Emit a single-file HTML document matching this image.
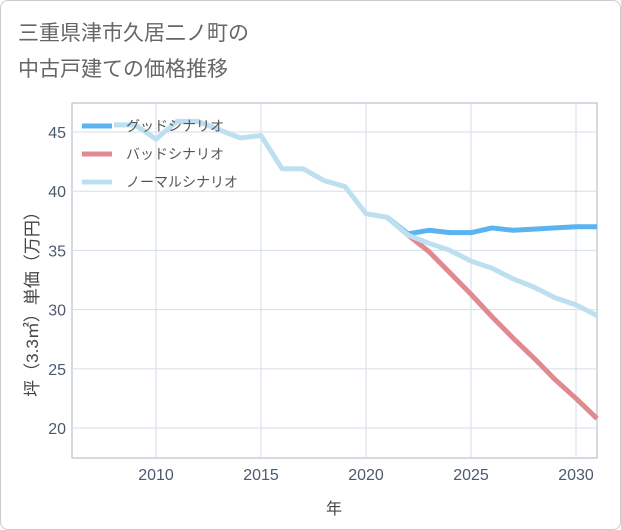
<!DOCTYPE html>
<html><head><meta charset="utf-8"><style>
body{margin:0;background:#fff;font-family:"Liberation Sans","Noto Sans CJK JP",sans-serif;}
#wrap{position:relative;width:619px;height:528px;border:1px solid #ccc;border-radius:8px;overflow:hidden;background:#fff}
</style></head><body>
<div id="wrap">
<svg id="chart" width="621" height="530" style="position:absolute;left:-1px;top:-1px">
<text x="18" y="40" font-size="21" fill="#666" font-family="Liberation Sans,Noto Sans CJK JP,sans-serif">三重県津市久居二ノ町の</text>
<text x="18" y="76" font-size="21" fill="#666" font-family="Liberation Sans,Noto Sans CJK JP,sans-serif">中古戸建ての価格推移</text>
<g id="grid"></g><g id="series"></g><g id="legend"></g>
<text x="334" y="514" font-size="16" fill="#444" text-anchor="middle" font-family="Liberation Sans,Noto Sans CJK JP,sans-serif">年</text>
<text transform="translate(38,300) rotate(-90)" font-size="17" fill="#444" text-anchor="middle" font-family="Liberation Sans,Noto Sans CJK JP,sans-serif">坪（3.3㎡）単価（万円）</text>
</svg>
</div>
<script>
const xTicks=[2010,2015,2020,2025,2030];
const yTicks=[20,25,30,35,40,45];
const normalYears=[2008,2009,2010,2011,2012,2013,2014,2015,2016,2017,2018,2019,2020,2021,2022,2023,2024,2025,2026,2027,2028,2029,2030,2031];
const normalVals=[45.6,45.6,44.4,45.9,45.9,45.2,44.5,44.7,41.9,41.9,40.9,40.4,38.1,37.8,36.3,35.6,35.0,34.1,33.5,32.6,31.9,31.0,30.4,29.5];
const goodYears=[2021,2022,2023,2024,2025,2026,2027,2028,2029,2030,2031];
const goodVals=[37.8,36.4,36.7,36.5,36.5,36.9,36.7,36.8,36.9,37.0,37.0];
const badYears=[2021,2022,2023,2024,2025,2026,2027,2028,2029,2030,2031];
const badVals=[37.8,36.3,34.9,33.1,31.3,29.4,27.6,25.9,24.1,22.5,20.8];
const L=72,R=597,T=103,B=458,X0=2006,X1=2031,Y0=17.47,Y1=47.45;
const sx=v=>L+(v-X0)/(X1-X0)*(R-L);
const sy=v=>B-(v-Y0)/(Y1-Y0)*(B-T);
const NS="http://www.w3.org/2000/svg";
function mk(tag,attrs,parent){const e=document.createElementNS(NS,tag);for(const k in attrs)e.setAttribute(k,attrs[k]);parent.appendChild(e);return e;}
const grid=document.getElementById('grid');
mk('rect',{x:L,y:T,width:R-L,height:B-T,fill:'none',stroke:'#aab4c0','stroke-width':1},grid);
xTicks.forEach(t=>{
 const l=mk('line',{x1:sx(t),x2:sx(t),y1:T,y2:B,stroke:'#d5dee8'},grid);
 
 
 const tx=mk('text',{x:sx(t),y:B+22,'font-size':16,fill:'#4a5a70','text-anchor':'middle'},grid);
 tx.textContent=t;
 
 
});
yTicks.forEach(t=>{
 const l=mk('line',{x1:L,x2:R,y1:sy(t),y2:sy(t),stroke:'#d5dee8'},grid);
 
 
 const tx=mk('text',{x:L-6,y:sy(t)+6,'font-size':16,fill:'#4a5a70','text-anchor':'end'},grid);
 tx.textContent=t;
 
 
});
const ser=document.getElementById('series');
function line(xs,ys,color,name){
 const p=mk('polyline',{points:xs.map((x,i)=>sx(x)+','+sy(ys[i])).join(' '),fill:'none',stroke:color,'stroke-width':5,'stroke-linejoin':'round'},ser);
 
 
}
line(badYears,badVals,'#e08a90','bad-scenario-line');
line(goodYears,goodVals,'#5ab4f0','good-scenario-line');
line(normalYears,normalVals,'#bde0f0','normal-scenario-line');
const lg=document.getElementById('legend');
[['グッドシナリオ','#5ab4f0','legend-good'],['バッドシナリオ','#e08a90','legend-bad'],['ノーマルシナリオ','#bde0f0','legend-normal']].forEach((d,i)=>{
 const y=126+i*28;
 const g=mk('g',{},lg);
 
 
 mk('line',{x1:82,x2:112,y1:y,y2:y,stroke:d[1],'stroke-width':5},g);
 const t=mk('text',{x:126,y:y+5,'font-size':14,fill:'#555'},g);
 t.textContent=d[0];
});
</script>
</body></html>
